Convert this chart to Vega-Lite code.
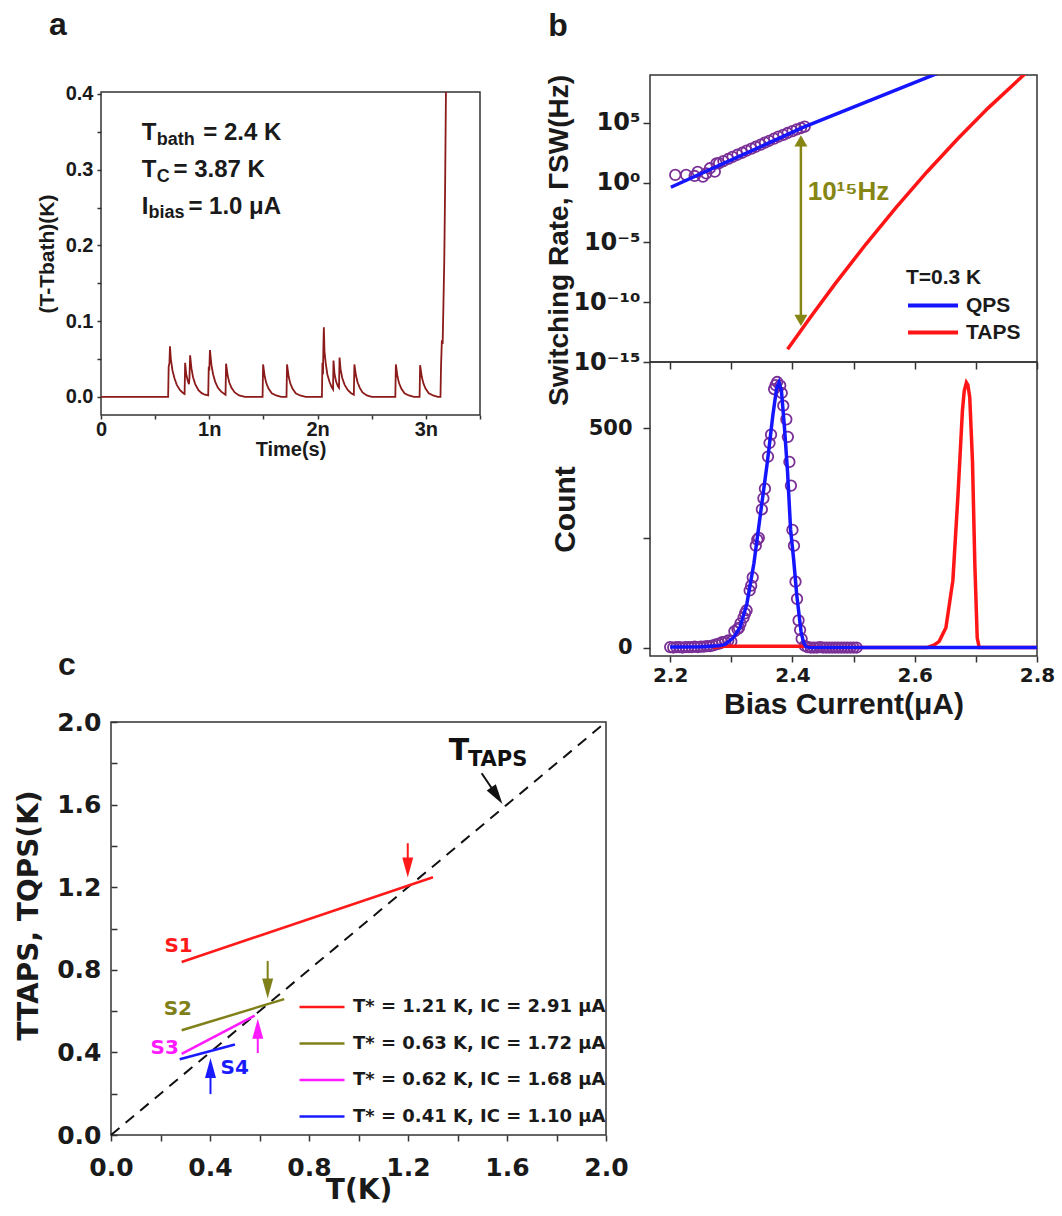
{
  "$schema": "https://vega.github.io/schema/vega-lite/v6.json",
  "background": "white",
  "padding": {"left": 14, "top": 8, "right": 2, "bottom": 2},
  "config": {
    "view": {"stroke": "#333333", "strokeWidth": 1.5},
    "axis": {"domain": false, "grid": false, "tickColor": "#333333", "tickWidth": 1.5, "labelColor": "#1a1a1a", "titleColor": "#1a1a1a", "labelFontWeight": "bold", "titleFontWeight": "bold", "labelFlush": false, "labelOverlap": false, "labelFont": "Liberation Sans", "titleFont": "Liberation Sans"},
    "title": {"font": "Liberation Sans", "fontSize": 32, "fontWeight": "bold", "color": "#1a1a1a", "anchor": "start"},
    "legend": {"labelFontWeight": "bold", "titleFontWeight": "bold", "labelColor": "#1a1a1a", "titleColor": "#1a1a1a", "labelLimit": 400}
  },
  "spacing": -85,
  "resolve": {"scale": {"x": "independent", "y": "independent", "color": "independent", "fill": "independent", "stroke": "independent"}, "legend": {"color": "independent"}},
  "hconcat": [
    {
      "vconcat": [
        {
          "vconcat": [
            {
              "width": 379, "height": 17,
              "view": {"stroke": null},
              "data": {"values": []},
              "mark": {"type": "point", "opacity": 0},
              "encoding": {}
            },
            {
              "width": 379, "height": 323,
              "title": {"text": "a", "frame": "group", "dx": -52, "offset": 42},
              "encoding": {
                "x": {"field": "x", "type": "quantitative", "scale": {"domain": [0, 3.5], "nice": false, "zero": false},
                  "axis": {"values": [0, 0.5, 1, 1.5, 2, 2.5, 3, 3.5], "labelExpr": "datum.value == 0 ? '0' : (datum.value % 1 == 0 ? datum.value + 'n' : '')", "tickSize": 4, "labelPadding": 0, "labelFontSize": 20, "title": "Time(s)", "titleFontSize": 20, "titlePadding": 0}},
                "y": {"field": "y", "type": "quantitative", "scale": {"domain": [-0.0238, 0.4026], "nice": false, "zero": false},
                  "axis": {"values": [0, 0.05, 0.1, 0.15, 0.2, 0.25, 0.3, 0.35, 0.4], "labelExpr": "round(datum.value*20) % 2 == 0 ? format(datum.value, '.1f') : ''", "tickSize": 4, "labelPadding": 4, "labelFontSize": 20, "title": "(T-Tbath)(K)", "titleFontSize": 21, "titlePadding": 8, "minExtent": 36, "maxExtent": 36}}
              },
              "layer": [
                {
                  "data": {"values": [
                    {"x": 0, "y": 0}, {"x": 0.62, "y": 0},
                    {"x": 0.625, "y": 0.04}, {"x": 0.632, "y": 0.045}, {"x": 0.637, "y": 0.067}, {"x": 0.645, "y": 0.05}, {"x": 0.66, "y": 0.035}, {"x": 0.68, "y": 0.024}, {"x": 0.7, "y": 0.016}, {"x": 0.73, "y": 0.009}, {"x": 0.76, "y": 0.005}, {"x": 0.772, "y": 0.004},
                    {"x": 0.777, "y": 0.045}, {"x": 0.787, "y": 0.03}, {"x": 0.8, "y": 0.022}, {"x": 0.812, "y": 0.017},
                    {"x": 0.817, "y": 0.025}, {"x": 0.823, "y": 0.055}, {"x": 0.835, "y": 0.038}, {"x": 0.85, "y": 0.026}, {"x": 0.87, "y": 0.017}, {"x": 0.9, "y": 0.009}, {"x": 0.93, "y": 0.005}, {"x": 0.96, "y": 0.003}, {"x": 0.99, "y": 0.002},
                    {"x": 0.995, "y": 0.04}, {"x": 1.0, "y": 0.035}, {"x": 1.006, "y": 0.062}, {"x": 1.02, "y": 0.042}, {"x": 1.035, "y": 0.03}, {"x": 1.055, "y": 0.02}, {"x": 1.08, "y": 0.012}, {"x": 1.11, "y": 0.007}, {"x": 1.14, "y": 0.004}, {"x": 1.15, "y": 0.003},
                    {"x": 1.155, "y": 0.044}, {"x": 1.17, "y": 0.028}, {"x": 1.185, "y": 0.019}, {"x": 1.205, "y": 0.012}, {"x": 1.235, "y": 0.006}, {"x": 1.275, "y": 0.002}, {"x": 1.33, "y": 0}, {"x": 1.492, "y": 0},
                    {"x": 1.497, "y": 0.043}, {"x": 1.512, "y": 0.027}, {"x": 1.527, "y": 0.018}, {"x": 1.547, "y": 0.011}, {"x": 1.577, "y": 0.005}, {"x": 1.617, "y": 0.002}, {"x": 1.665, "y": 0}, {"x": 1.713, "y": 0},
                    {"x": 1.718, "y": 0.043}, {"x": 1.733, "y": 0.027}, {"x": 1.748, "y": 0.018}, {"x": 1.768, "y": 0.011}, {"x": 1.798, "y": 0.005}, {"x": 1.838, "y": 0.002}, {"x": 1.89, "y": 0}, {"x": 2.04, "y": 0},
                    {"x": 2.045, "y": 0.045}, {"x": 2.05, "y": 0.03}, {"x": 2.054, "y": 0.068}, {"x": 2.058, "y": 0.092}, {"x": 2.064, "y": 0.06}, {"x": 2.075, "y": 0.045}, {"x": 2.09, "y": 0.03}, {"x": 2.11, "y": 0.02}, {"x": 2.13, "y": 0.013}, {"x": 2.143, "y": 0.01},
                    {"x": 2.147, "y": 0.048}, {"x": 2.157, "y": 0.03}, {"x": 2.172, "y": 0.02}, {"x": 2.188, "y": 0.014}, {"x": 2.198, "y": 0.012},
                    {"x": 2.203, "y": 0.052}, {"x": 2.213, "y": 0.036}, {"x": 2.228, "y": 0.025}, {"x": 2.25, "y": 0.016}, {"x": 2.28, "y": 0.009}, {"x": 2.31, "y": 0.005}, {"x": 2.335, "y": 0.003},
                    {"x": 2.34, "y": 0.043}, {"x": 2.355, "y": 0.028}, {"x": 2.37, "y": 0.019}, {"x": 2.39, "y": 0.012}, {"x": 2.415, "y": 0.006}, {"x": 2.455, "y": 0.002}, {"x": 2.5, "y": 0}, {"x": 2.718, "y": 0},
                    {"x": 2.723, "y": 0.043}, {"x": 2.738, "y": 0.027}, {"x": 2.753, "y": 0.018}, {"x": 2.773, "y": 0.011}, {"x": 2.803, "y": 0.005}, {"x": 2.843, "y": 0.002}, {"x": 2.89, "y": 0}, {"x": 2.942, "y": 0},
                    {"x": 2.947, "y": 0.042}, {"x": 2.962, "y": 0.027}, {"x": 2.977, "y": 0.018}, {"x": 2.997, "y": 0.011}, {"x": 3.027, "y": 0.005}, {"x": 3.067, "y": 0.002}, {"x": 3.11, "y": 0}, {"x": 3.135, "y": 0},
                    {"x": 3.14, "y": 0.04}, {"x": 3.148, "y": 0.075}, {"x": 3.155, "y": 0.07}, {"x": 3.162, "y": 0.12}, {"x": 3.17, "y": 0.18}, {"x": 3.178, "y": 0.28}, {"x": 3.186, "y": 0.41}
                  ]},
                  "mark": {"type": "line", "color": "#8b1a1a", "strokeWidth": 1.8, "clip": true},
                  "encoding": {}
                },
                {
                  "data": {"values": [
                    {"x": 0.377, "y": 0.348, "text": "T"}, {"x": 0.945, "y": 0.348, "text": "= 2.4 K"},
                    {"x": 0.377, "y": 0.2996, "text": "T"}, {"x": 0.669, "y": 0.2996, "text": "= 3.87 K"},
                    {"x": 0.377, "y": 0.2512, "text": "I"}, {"x": 0.807, "y": 0.2512, "text": "= 1.0 μA"}
                  ]},
                  "mark": {"type": "text", "align": "left", "baseline": "middle", "font": "Liberation Sans", "fontWeight": "bold", "fontSize": 24, "color": "#1a1a1a"},
                  "encoding": {"text": {"field": "text"}}
                },
                {
                  "data": {"values": [
                    {"x": 0.515, "y": 0.339, "text": "bath"}, {"x": 0.515, "y": 0.2908, "text": "C"}, {"x": 0.439, "y": 0.2425, "text": "bias"}
                  ]},
                  "mark": {"type": "text", "align": "left", "baseline": "middle", "font": "Liberation Sans", "fontWeight": "bold", "fontSize": 18, "color": "#1a1a1a"},
                  "encoding": {"text": {"field": "text"}}
                }
              ]
            }
          ],
          "bounds": "flush",
          "spacing": 0
        },
        {
          "hconcat": [
            {
              "width": 10, "height": 1,
              "view": {"stroke": null},
              "data": {"values": []},
              "mark": {"type": "point", "opacity": 0},
              "encoding": {}
            },
            {
              "width": 495, "height": 413,
              "title": {"text": "c", "frame": "group", "dx": -53, "offset": 28},
              "encoding": {
                "x": {"field": "x", "type": "quantitative", "scale": {"domain": [0, 2], "nice": false, "zero": false},
                  "axis": {"values": [0, 0.2, 0.4, 0.6, 0.8, 1, 1.2, 1.4, 1.6, 1.8, 2], "labelExpr": "round(datum.value*5) % 2 == 0 ? format(datum.value, '.1f') : ''", "tickSize": 6, "labelPadding": 14, "labelFont": "DejaVu Sans", "labelFontSize": 25, "title": "T(K)", "titleFont": "DejaVu Sans", "titleFontSize": 28, "titlePadding": -4}},
                "y": {"field": "y", "type": "quantitative", "scale": {"domain": [0, 2], "nice": false, "zero": false},
                  "axis": {"values": [0, 0.2, 0.4, 0.6, 0.8, 1, 1.2, 1.4, 1.6, 1.8, 2], "labelExpr": "round(datum.value*5) % 2 == 0 ? format(datum.value, '.1f') : ''", "tickSize": -6, "labelPadding": 16, "labelFont": "DejaVu Sans", "labelFontSize": 25, "title": "TTAPS, TQPS(K)", "titleFont": "DejaVu Sans", "titleFontSize": 28, "titlePadding": 13, "titleY": 193}}
              },
              "layer": [
                {
                  "data": {"values": [{"x": 0, "y": 0}, {"x": 2, "y": 2}]},
                  "mark": {"type": "line", "color": "#111111", "strokeWidth": 2, "strokeDash": [11, 8]},
                  "encoding": {}
                },
                {
                  "data": {"values": [
                    {"x": 0.2855, "y": 0.838, "s": "S1"}, {"x": 1.301, "y": 1.248, "s": "S1"},
                    {"x": 0.2855, "y": 0.507, "s": "S2"}, {"x": 0.70, "y": 0.658, "s": "S2"},
                    {"x": 0.2855, "y": 0.393, "s": "S3"}, {"x": 0.5805, "y": 0.5785, "s": "S3"},
                    {"x": 0.2775, "y": 0.367, "s": "S4"}, {"x": 0.5008, "y": 0.438, "s": "S4"}
                  ]},
                  "mark": {"type": "line", "strokeWidth": 2.5},
                  "encoding": {
                    "color": {"field": "s", "type": "nominal", "scale": {"domain": ["S1", "S2", "S3", "S4"], "range": ["#ff1a1a", "#80801a", "#ff1aff", "#1a1aff"]},
                      "legend": {"orient": "bottom-right", "offset": 0, "padding": 0, "title": null, "symbolType": "stroke", "symbolSize": 2025, "symbolStrokeWidth": 2.5, "clipHeight": 36, "rowPadding": 0.5, "labelOffset": 7, "labelFont": "DejaVu Sans", "labelFontSize": 18,
                        "labelExpr": "datum.label == 'S1' ? 'T* = 1.21 K, IC = 2.91 μA' : datum.label == 'S2' ? 'T* = 0.63 K, IC = 1.72 μA' : datum.label == 'S3' ? 'T* = 0.62 K, IC = 1.68 μA' : 'T* = 0.41 K, IC = 1.10 μA'"}}
                  }
                },
                {
                  "data": {"values": [
                    {"x": 1.199, "y": 1.413, "y2": 1.296, "s": "S1"},
                    {"x": 0.633, "y": 0.843, "y2": 0.709, "s": "S2"},
                    {"x": 0.593, "y": 0.397, "y2": 0.514, "s": "S3"},
                    {"x": 0.402, "y": 0.198, "y2": 0.324, "s": "S4"}
                  ]},
                  "mark": {"type": "rule", "strokeWidth": 2},
                  "encoding": {
                    "y2": {"field": "y2"},
                    "stroke": {"field": "s", "type": "nominal", "scale": {"domain": ["S1", "S2", "S3", "S4"], "range": ["#ff1a1a", "#80801a", "#ff1aff", "#1a1aff"]}, "legend": null}
                  }
                },
                {
                  "data": {"values": [{"x": 1.199, "y": 1.296, "s": "S1"}, {"x": 0.633, "y": 0.709, "s": "S2"}]},
                  "mark": {"type": "point", "shape": "M0,1L0.55,-1L-0.55,-1Z", "filled": true, "size": 400, "opacity": 1},
                  "encoding": {"fill": {"field": "s", "type": "nominal", "scale": {"domain": ["S1", "S2", "S3", "S4"], "range": ["#ff1a1a", "#80801a", "#ff1aff", "#1a1aff"]}, "legend": null}}
                },
                {
                  "data": {"values": [{"x": 0.593, "y": 0.514, "s": "S3"}, {"x": 0.402, "y": 0.324, "s": "S4"}]},
                  "mark": {"type": "point", "shape": "M0,-1L0.55,1L-0.55,1Z", "filled": true, "size": 400, "opacity": 1},
                  "encoding": {"fill": {"field": "s", "type": "nominal", "scale": {"domain": ["S1", "S2", "S3", "S4"], "range": ["#ff1a1a", "#80801a", "#ff1aff", "#1a1aff"]}, "legend": null}}
                },
                {
                  "data": {"values": [{"x": 1.4976, "y": 1.752, "x2": 1.559, "y2": 1.643}]},
                  "mark": {"type": "rule", "color": "#111111", "strokeWidth": 2},
                  "encoding": {"x2": {"field": "x2"}, "y2": {"field": "y2"}}
                },
                {
                  "data": {"values": [{"x": 1.559, "y": 1.643}]},
                  "mark": {"type": "point", "shape": "M0,-1L0.55,1L-0.55,1Z", "filled": true, "size": 400, "angle": 145.9, "color": "#111111", "opacity": 1},
                  "encoding": {}
                },
                {
                  "data": {"values": [
                    {"x": 0.273, "y": 0.917, "text": "S1", "s": "S1"}, {"x": 0.27, "y": 0.612, "text": "S2", "s": "S2"},
                    {"x": 0.217, "y": 0.421, "text": "S3", "s": "S3"}, {"x": 0.5, "y": 0.326, "text": "S4", "s": "S4"}
                  ]},
                  "mark": {"type": "text", "font": "DejaVu Sans", "fontWeight": "bold", "fontSize": 20, "align": "center", "baseline": "middle"},
                  "encoding": {
                    "text": {"field": "text"},
                    "fill": {"field": "s", "type": "nominal", "scale": {"domain": ["S1", "S2", "S3", "S4"], "range": ["#ff1a1a", "#80801a", "#ff1aff", "#1a1aff"]}, "legend": null}
                  }
                },
                {
                  "data": {"values": [{"x": 1.406, "y": 1.859, "text": "T"}]},
                  "mark": {"type": "text", "font": "DejaVu Sans", "fontWeight": "bold", "fontSize": 30, "align": "center", "baseline": "middle", "color": "#111111"},
                  "encoding": {"text": {"field": "text"}}
                },
                {
                  "data": {"values": [{"x": 1.442, "y": 1.818, "text": "TAPS"}]},
                  "mark": {"type": "text", "font": "DejaVu Sans", "fontWeight": "bold", "fontSize": 21, "align": "left", "baseline": "middle", "color": "#111111"},
                  "encoding": {"text": {"field": "text"}}
                }
              ]
            }
          ],
          "bounds": "flush",
          "spacing": 0,
          "resolve": {"scale": {"x": "independent", "y": "independent", "color": "independent", "fill": "independent", "stroke": "independent"}, "legend": {"color": "independent"}}
        }
      ],
      "bounds": "flush",
      "spacing": 647,
      "resolve": {"scale": {"x": "independent", "y": "independent", "color": "independent", "fill": "independent", "stroke": "independent"}, "legend": {"color": "independent"}}
    },
    {
      "title": {"text": "b", "frame": "bounds", "dx": 4, "offset": 31},
      "vconcat": [
        {
          "width": 387, "height": 287,
          "encoding": {
            "x": {"field": "I", "type": "quantitative", "scale": {"domain": [2.167, 2.8], "nice": false, "zero": false},
              "axis": {"values": [2.2, 2.3, 2.4, 2.5, 2.6, 2.7, 2.8], "labels": false, "tickSize": 7, "title": null}},
            "y": {"field": "r", "type": "quantitative", "scale": {"type": "log", "domain": [1e-15, 1e9], "nice": false},
              "axis": {"values": [1e-15, 1e-10, 1e-5, 1, 1e5], "labelExpr": "datum.value > 1000 ? '10⁵' : datum.value > 0.001 ? '10⁰' : datum.value > 1e-8 ? '10⁻⁵' : datum.value > 1e-13 ? '10⁻¹⁰' : '10⁻¹⁵'", "tickSize": 7, "labelPadding": 3, "labelFont": "DejaVu Sans", "labelFontSize": 24, "title": "Switching Rate, ΓSW(Hz)", "titleFontSize": 28, "titlePadding": 2, "titleY": 165, "minExtent": 75, "maxExtent": 75}}
          },
          "layer": [
            {
              "data": {"values": [
                {"I": 2.2083, "r": 4.4}, {"I": 2.226, "r": 4.4}, {"I": 2.24, "r": 3.6}, {"I": 2.245, "r": 8}, {"I": 2.2536, "r": 3.2}, {"I": 2.259, "r": 6}, {"I": 2.265, "r": 16}, {"I": 2.273, "r": 8.3}, {"I": 2.2757, "r": 41},
                {"I": 2.28, "r": 42}, {"I": 2.287, "r": 63}, {"I": 2.295, "r": 95}, {"I": 2.302, "r": 141}, {"I": 2.31, "r": 214}, {"I": 2.318, "r": 316}, {"I": 2.325, "r": 479}, {"I": 2.333, "r": 708}, {"I": 2.34, "r": 1000},
                {"I": 2.348, "r": 1510}, {"I": 2.355, "r": 2240}, {"I": 2.362, "r": 3160}, {"I": 2.37, "r": 4790}, {"I": 2.377, "r": 7080}, {"I": 2.385, "r": 10000}, {"I": 2.392, "r": 14100}, {"I": 2.4, "r": 20000},
                {"I": 2.407, "r": 28200}, {"I": 2.414, "r": 37100}, {"I": 2.42, "r": 47900}
              ]},
              "mark": {"type": "point", "shape": "circle", "filled": false, "size": 110, "strokeWidth": 1.8, "color": "#7a2f96", "opacity": 1, "clip": true},
              "encoding": {}
            },
            {
              "data": {"values": [
                {"I": 2.2011, "r": 0.41, "model": "QPS"}, {"I": 2.3, "r": 80, "model": "QPS"}, {"I": 2.4193, "r": 46000, "model": "QPS"}, {"I": 2.52, "r": 5.4e6, "model": "QPS"}, {"I": 2.629, "r": 9.3e8, "model": "QPS"}, {"I": 2.66, "r": 4e9, "model": "QPS"},
                {"I": 2.392, "r": 1.15e-14, "model": "TAPS"}, {"I": 2.43, "r": 6.2e-12, "model": "TAPS"}, {"I": 2.47, "r": 3.6e-9, "model": "TAPS"}, {"I": 2.52, "r": 7.0e-6, "model": "TAPS"}, {"I": 2.57, "r": 9.1e-3, "model": "TAPS"}, {"I": 2.62, "r": 7.8, "model": "TAPS"}, {"I": 2.67, "r": 4.4e3, "model": "TAPS"}, {"I": 2.72, "r": 1.7e6, "model": "TAPS"}, {"I": 2.776, "r": 7.8e8, "model": "TAPS"}, {"I": 2.8, "r": 9e9, "model": "TAPS"}
              ]},
              "mark": {"type": "line", "strokeWidth": 3.5, "clip": true},
              "encoding": {
                "color": {"field": "model", "type": "nominal", "scale": {"domain": ["QPS", "TAPS"], "range": ["#1515ff", "#ff1515"]},
                  "legend": {"orient": "bottom-right", "offset": 16, "padding": 0, "title": "T=0.3 K", "titleFont": "Liberation Sans", "titleFontSize": 21, "titlePadding": 4, "labelFont": "Liberation Sans", "labelFontSize": 21, "symbolType": "stroke", "symbolSize": 2500, "symbolStrokeWidth": 4, "clipHeight": 27, "rowPadding": 0, "labelOffset": 6}}
              }
            },
            {
              "data": {"values": [{"I": 2.4138, "r": 3090, "r2": 3.0e-12}]},
              "mark": {"type": "rule", "color": "#868615", "strokeWidth": 2.5},
              "encoding": {"y2": {"field": "r2"}}
            },
            {
              "data": {"values": [{"I": 2.4138, "r": 3090}]},
              "mark": {"type": "point", "shape": "triangle-up", "filled": true, "size": 170, "color": "#868615", "opacity": 1},
              "encoding": {}
            },
            {
              "data": {"values": [{"I": 2.4138, "r": 3.0e-12}]},
              "mark": {"type": "point", "shape": "triangle-down", "filled": true, "size": 170, "color": "#868615", "opacity": 1},
              "encoding": {}
            },
            {
              "data": {"values": [{"I": 2.4249, "r": 0.178, "text": "10¹⁵Hz"}]},
              "mark": {"type": "text", "align": "left", "baseline": "middle", "font": "Liberation Sans", "fontWeight": "bold", "fontSize": 26, "color": "#868615"},
              "encoding": {"text": {"field": "text"}}
            }
          ]
        },
        {
          "width": 387, "height": 294,
          "encoding": {
            "x": {"field": "I", "type": "quantitative", "scale": {"domain": [2.167, 2.8], "nice": false, "zero": false},
              "axis": {"values": [2.2, 2.3, 2.4, 2.5, 2.6, 2.7, 2.8], "labelExpr": "round(datum.value*10) % 2 == 0 ? format(datum.value, '.1f') : ''", "tickSize": 6, "labelPadding": 3, "labelFont": "DejaVu Sans", "labelFontSize": 20, "title": "Bias Current(μA)", "titleFontSize": 30, "titlePadding": 4}},
            "y": {"field": "n", "type": "quantitative", "scale": {"domain": [-19.3, 650.6], "nice": false, "zero": false},
              "axis": {"values": [0, 250, 500], "labelExpr": "datum.value == 250 ? '' : format(datum.value, 'd')", "tickSize": 7, "labelPadding": 11, "labelFont": "DejaVu Sans", "labelFontSize": 21, "title": "Count", "titleFontSize": 30, "titlePadding": 8, "minExtent": 62, "maxExtent": 62}}
          },
          "layer": [
            {
              "data": {"values": [
                {"I": 2.2, "n": 1}, {"I": 2.205, "n": 0}, {"I": 2.21, "n": 1}, {"I": 2.215, "n": 1}, {"I": 2.22, "n": 0}, {"I": 2.225, "n": 1}, {"I": 2.23, "n": 1}, {"I": 2.235, "n": 1}, {"I": 2.24, "n": 2}, {"I": 2.245, "n": 1},
                {"I": 2.25, "n": 2}, {"I": 2.255, "n": 2}, {"I": 2.26, "n": 3}, {"I": 2.265, "n": 3}, {"I": 2.27, "n": 5}, {"I": 2.275, "n": 7}, {"I": 2.28, "n": 9}, {"I": 2.285, "n": 12}, {"I": 2.29, "n": 13}, {"I": 2.295, "n": 16},
                {"I": 2.3, "n": 14}, {"I": 2.305, "n": 37}, {"I": 2.31, "n": 42}, {"I": 2.315, "n": 55}, {"I": 2.32, "n": 68}, {"I": 2.325, "n": 85}, {"I": 2.33, "n": 130}, {"I": 2.335, "n": 160}, {"I": 2.34, "n": 232}, {"I": 2.345, "n": 250},
                {"I": 2.35, "n": 315}, {"I": 2.355, "n": 362}, {"I": 2.36, "n": 435}, {"I": 2.365, "n": 485}, {"I": 2.37, "n": 589}, {"I": 2.375, "n": 605}, {"I": 2.38, "n": 597}, {"I": 2.385, "n": 551}, {"I": 2.39, "n": 520}, {"I": 2.395, "n": 423},
                {"I": 2.4, "n": 268}, {"I": 2.405, "n": 150}, {"I": 2.41, "n": 62}, {"I": 2.415, "n": 20}, {"I": 2.42, "n": 4}, {"I": 2.425, "n": 1}, {"I": 2.43, "n": 0}, {"I": 2.435, "n": 0}, {"I": 2.44, "n": 0}, {"I": 2.445, "n": 1},
                {"I": 2.45, "n": 0}, {"I": 2.455, "n": 0}, {"I": 2.46, "n": 0}, {"I": 2.465, "n": 0}, {"I": 2.47, "n": 0}, {"I": 2.475, "n": 0}, {"I": 2.48, "n": 0}, {"I": 2.485, "n": 0}, {"I": 2.49, "n": 0}, {"I": 2.495, "n": 0},
                {"I": 2.5, "n": 0}, {"I": 2.505, "n": 0},
                {"I": 2.3125, "n": 45}, {"I": 2.3225, "n": 78}, {"I": 2.3325, "n": 141}, {"I": 2.3425, "n": 246}, {"I": 2.3525, "n": 340}, {"I": 2.3625, "n": 466}, {"I": 2.3725, "n": 598},
                {"I": 2.3825, "n": 580}, {"I": 2.3925, "n": 480}, {"I": 2.3975, "n": 369}, {"I": 2.4025, "n": 232}, {"I": 2.4075, "n": 111}, {"I": 2.4125, "n": 40}
              ]},
              "mark": {"type": "point", "shape": "circle", "filled": false, "size": 110, "strokeWidth": 1.8, "color": "#7a2f96", "opacity": 1},
              "encoding": {}
            },
            {
              "data": {"values": [
                {"I": 2.27, "n": 0}, {"I": 2.29, "n": 3}, {"I": 2.42, "n": 3}, {"I": 2.44, "n": 0}, {"I": 2.62, "n": 0}, {"I": 2.632, "n": 6}, {"I": 2.64, "n": 14}, {"I": 2.651, "n": 45}, {"I": 2.6624, "n": 153}, {"I": 2.6707, "n": 346},
                {"I": 2.678, "n": 539}, {"I": 2.681, "n": 585}, {"I": 2.6845, "n": 604}, {"I": 2.687, "n": 598}, {"I": 2.69, "n": 570}, {"I": 2.6945, "n": 423}, {"I": 2.6983, "n": 191}, {"I": 2.7022, "n": 22}, {"I": 2.7055, "n": 0}, {"I": 2.8, "n": 0}
              ]},
              "mark": {"type": "line", "color": "#ff1515", "strokeWidth": 3.5},
              "encoding": {}
            },
            {
              "data": {"values": [
                {"I": 2.2, "n": 1}, {"I": 2.25, "n": 1.5}, {"I": 2.28, "n": 4}, {"I": 2.29, "n": 7}, {"I": 2.303, "n": 22}, {"I": 2.314, "n": 45}, {"I": 2.3255, "n": 100}, {"I": 2.337, "n": 192}, {"I": 2.348, "n": 308},
                {"I": 2.359, "n": 423}, {"I": 2.368, "n": 530}, {"I": 2.374, "n": 590}, {"I": 2.378, "n": 604}, {"I": 2.382, "n": 585}, {"I": 2.387, "n": 500}, {"I": 2.392, "n": 400}, {"I": 2.397, "n": 268}, {"I": 2.402, "n": 200},
                {"I": 2.407, "n": 120}, {"I": 2.414, "n": 37}, {"I": 2.418, "n": 12}, {"I": 2.422, "n": 2}, {"I": 2.43, "n": 0}, {"I": 2.8, "n": 0}
              ]},
              "mark": {"type": "line", "color": "#1515ff", "strokeWidth": 3.5},
              "encoding": {}
            }
          ]
        }
      ],
      "bounds": "flush",
      "spacing": 0,
      "resolve": {"scale": {"x": "independent", "y": "independent", "color": "independent"}}
    }
  ]
}
